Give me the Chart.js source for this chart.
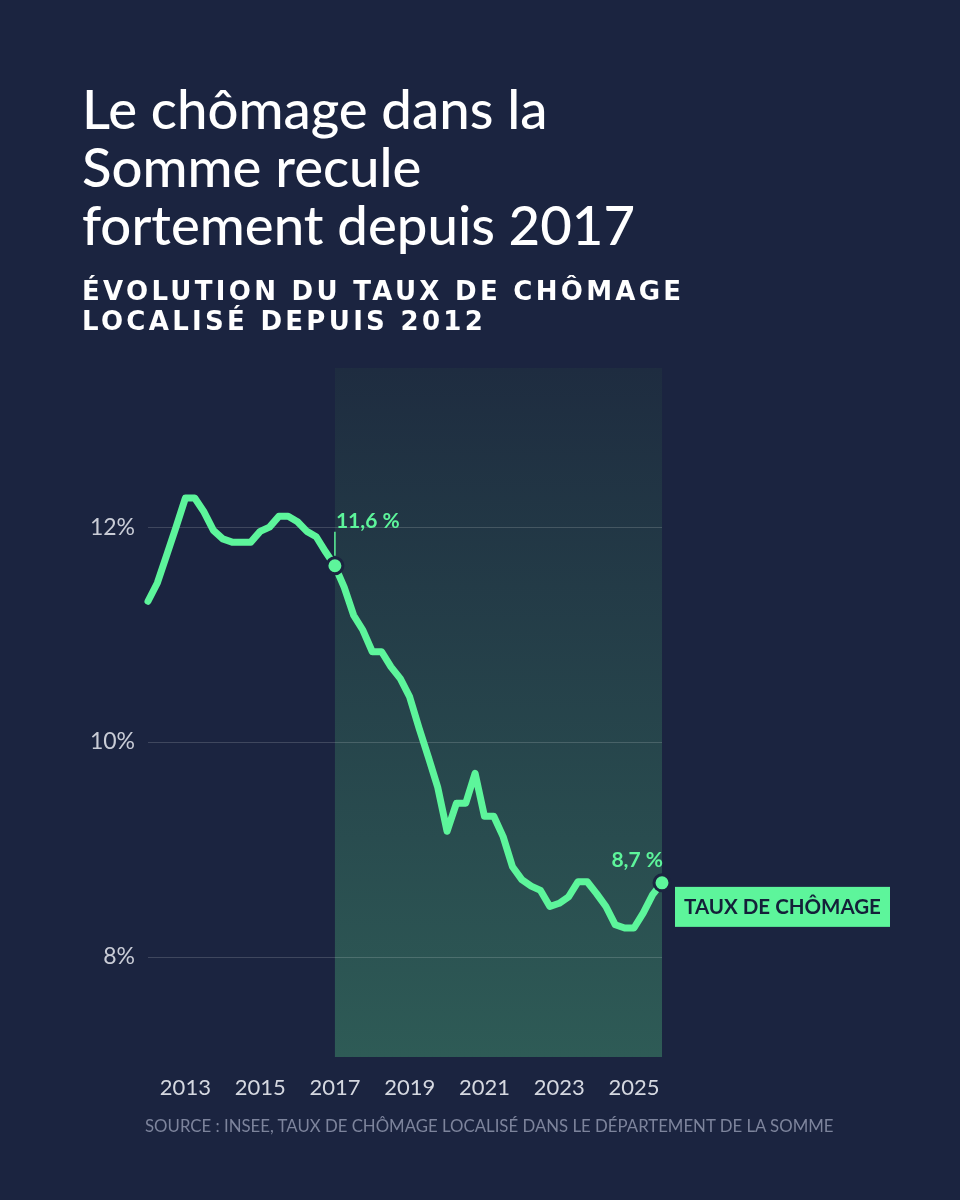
<!DOCTYPE html>
<html lang="fr">
<head>
<meta charset="utf-8">
<title>Le chômage dans la Somme</title>
<script src="https://cdn.jsdelivr.net/npm/chart.js@4.4.1/dist/chart.umd.min.js"></script>
<style>
  html, body { margin: 0; padding: 0; background: #1b2440; }
  #page { position: relative; width: 960px; height: 1200px; overflow: hidden; }
  #titre {
    position: absolute; left: 82px; top: 79px; margin: 0;
    font-family: Lato, sans-serif; font-weight: 500; font-size: 54.5px; line-height: 58px;
    color: #ffffff;
  }
  #sousTitre {
    position: absolute; left: 82px; top: 276px; margin: 0;
    font-family: "DejaVu Sans", sans-serif; font-weight: bold; font-size: 26px; line-height: 30px;
    letter-spacing: 3.3px; color: #ffffff;
  }
  #source {
    position: absolute; left: 145px; top: 1116px;
    font-family: Lato, sans-serif; font-size: 16.8px; line-height: 20px; color: #7d849c;
    white-space: nowrap;
  }
  #zone { position: absolute; left: 0; top: 0; width: 960px; height: 1200px; }
</style>
</head>
<body>
<div id="page">
  <div id="zone"><canvas id="graphique"></canvas></div>
  <h1 id="titre">Le chômage dans la<br>Somme recule<br>fortement depuis 2017</h1>
  <div id="sousTitre">ÉVOLUTION DU TAUX DE CHÔMAGE<br>LOCALISÉ DEPUIS 2012</div>
  <div id="source">SOURCE : INSEE, TAUX DE CHÔMAGE LOCALISÉ DANS LE DÉPARTEMENT DE LA SOMME</div>
</div>
<script>
// trimestres de T1 2012 a T4 2025
const annees = [2012, 2013, 2014, 2015, 2016, 2017, 2018, 2019, 2020, 2021, 2022, 2023, 2024, 2025];
const trimestres = ["T1", "T2", "T3", "T4"];
const tauxChomage = [
  11.31, 11.48, 11.74, 12.0,
  12.27, 12.27, 12.14, 11.97,
  11.89, 11.86, 11.86, 11.86,
  11.96, 12.0, 12.1, 12.1,
  12.05, 11.96, 11.91, 11.77,
  11.64, 11.44, 11.18, 11.04,
  10.84, 10.84, 10.70, 10.59,
  10.42, 10.13, 9.86, 9.58,
  9.17, 9.43, 9.43, 9.71,
  9.31, 9.31, 9.12, 8.84,
  8.72, 8.66, 8.62, 8.47,
  8.50, 8.56, 8.70, 8.70,
  8.59, 8.47, 8.30, 8.27,
  8.27, 8.41, 8.58, 8.69
];
const anneesAffichees = [2013, 2015, 2017, 2019, 2021, 2023, 2025];
const ticksY = [8, 10, 12];
const debutPeriode = "T1 2017";

const labels = [];
annees.forEach(a => trimestres.forEach(t => labels.push(t + " " + a)));
const iDebut = labels.indexOf(debutPeriode);
const iFin = tauxChomage.length - 1;

const vert = "#5df59b";
const fond = "#1b2440";

function fmt(v) {
  return v.toFixed(1).replace(".", ",") + " %";
}

// zone surlignee depuis 2017
const zonePlugin = {
  id: "zone2017",
  beforeDraw(chart) {
    const { ctx, chartArea, scales } = chart;
    const x0 = scales.x.getPixelForValue(iDebut);
    const x1 = scales.x.getPixelForValue(iFin);
    const g = ctx.createLinearGradient(0, chartArea.top, 0, chartArea.bottom);
    g.addColorStop(0, "#1e2c40");
    g.addColorStop(1, "#2e5b56");
    ctx.save();
    ctx.fillStyle = g;
    ctx.fillRect(x0, chartArea.top, x1 - x0, chartArea.bottom - chartArea.top);
    ctx.restore();
  }
};

// etiquettes des valeurs + legende
const etiquettesPlugin = {
  id: "etiquettes",
  afterDatasetsDraw(chart) {
    const { ctx } = chart;
    const pts = chart.getDatasetMeta(0).data;
    const p0 = pts[iDebut];
    const p1 = pts[iFin];
    ctx.save();
    ctx.fillStyle = vert;
    ctx.strokeStyle = vert;
    ctx.font = "bold 21px Lato, sans-serif";
    ctx.textBaseline = "alphabetic";

    // 2017
    ctx.lineWidth = 1.5;
    ctx.beginPath();
    ctx.moveTo(p0.x, p0.y - 10);
    ctx.lineTo(p0.x, p0.y - 34);
    ctx.stroke();
    ctx.textAlign = "left";
    ctx.fillText(fmt(tauxChomage[iDebut]), p0.x + 1, p0.y - 38);

    // dernier point
    ctx.textAlign = "right";
    ctx.fillText(fmt(tauxChomage[iFin]), p1.x + 1, p1.y - 16);

    // legende
    const bx = p1.x + 13, by = p1.y + 4, bw = 215, bh = 40;
    ctx.fillRect(bx, by, bw, bh);
    ctx.fillStyle = "#142039";
    ctx.font = "bold 20.5px Lato, sans-serif";
    ctx.textAlign = "center";
    ctx.textBaseline = "middle";
    ctx.fillText("TAUX DE CHÔMAGE", bx + bw / 2, by + bh / 2 + 1);
    ctx.restore();
  }
};

new Chart(document.getElementById("graphique"), {
  type: "line",
  data: {
    labels: labels,
    datasets: [{
      data: tauxChomage,
      borderColor: vert,
      borderWidth: 7,
      borderJoinStyle: "round",
      borderCapStyle: "round",
      tension: 0,
      pointRadius: tauxChomage.map((v, i) => (i === iDebut || i === iFin) ? 8 : 0),
      pointBackgroundColor: vert,
      pointBorderColor: fond,
      pointBorderWidth: 3,
      pointHoverRadius: 0
    }]
  },
  options: {
    responsive: true,
    maintainAspectRatio: false,
    animation: false,
    layout: { padding: { left: 0, top: 368, right: 298, bottom: 93 } },
    plugins: {
      legend: { display: false },
      tooltip: { enabled: false }
    },
    scales: {
      x: {
        type: "category",
        offset: false,
        grid: { display: false },
        border: { display: false },
        afterFit(scale) { scale.height = 50; },
        ticks: {
          autoSkip: false,
          maxRotation: 0,
          padding: 10,
          color: "#d5d8e0",
          font: { family: "Lato, sans-serif", size: 22 },
          callback(value) {
            const lab = this.getLabelForValue(value);
            const [t, a] = lab.split(" ");
            return (t === "T1" && anneesAffichees.includes(+a)) ? a : "";
          }
        }
      },
      y: {
        min: 7.07,
        max: 13.48,
        afterFit(scale) { scale.width = 148; },
        afterBuildTicks(scale) { scale.ticks = ticksY.map(v => ({ value: v })); },
        grid: { color: "rgba(255,255,255,0.16)", lineWidth: 1, drawTicks: false },
        border: { display: false },
        ticks: {
          padding: 13,
          color: "#c9ccd6",
          font: { family: "Lato, sans-serif", size: 23 },
          callback: v => v + "%"
        }
      }
    }
  },
  plugins: [zonePlugin, etiquettesPlugin]
});
</script>
</body>
</html>
